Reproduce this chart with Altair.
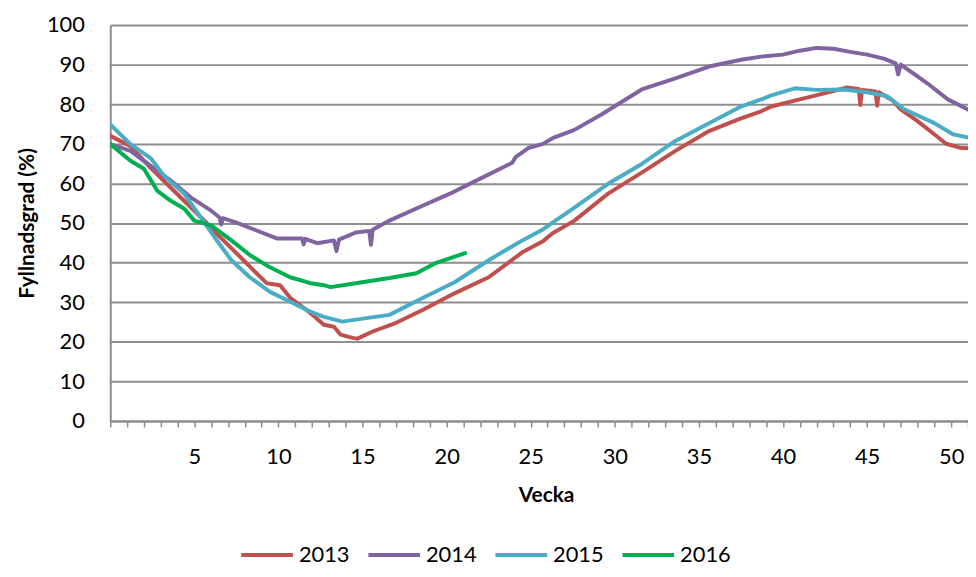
import altair as alt
import pandas as pd

# Week positions and fill levels (%)
weeks_2013 = [0, 1.2, 2.4, 3.6, 4.8, 5.6, 6.3, 7.5, 8.7, 9.3, 10.1, 10.7, 11.9, 12.7, 13.3, 13.7,
              14.4, 14.7, 15.6, 17.0, 18.6, 20.5, 22.5, 24.5, 25.7, 26.3, 27.6, 29.6, 31.6, 33.6,
              35.6, 37.5, 38.7, 39.3, 41.0, 42.5, 43.8, 44.5, 44.6, 44.7, 45.5, 45.6, 45.7, 46.5,
              47.0, 48.0, 48.9, 49.7, 50.5, 51.3]
values_2013 = [72.0, 69.4, 63.9, 58.9, 53.9, 50.6, 47.4, 42.4, 37.3, 34.8, 34.3, 31.1, 27.3, 24.3,
               23.8, 21.8, 21.0, 20.8, 22.6, 24.8, 28.1, 32.3, 36.3, 42.6, 45.3, 47.4, 50.6, 57.4,
               62.7, 68.2, 73.2, 76.4, 78.2, 79.4, 81.2, 82.8, 84.2, 83.8, 79.8, 83.6, 83.2, 79.6,
               83.0, 81.0, 78.7, 75.7, 72.7, 70.0, 69.0, 68.8]

weeks_2014 = [0, 1.2, 2.4, 3.6, 4.8, 6.0, 6.5, 6.6, 6.7, 7.5, 8.7, 9.9, 11.4, 11.5, 11.6, 12.3,
              13.3, 13.45, 13.6, 14.6, 15.4, 15.5, 15.6, 16.6, 18.6, 20.2, 22.0, 23.9, 24.1, 24.9,
              25.7, 26.3, 27.6, 29.2, 31.6, 33.6, 35.6, 37.5, 38.7, 40.0, 41.0, 42.0, 43.0, 44.0,
              45.0, 46.0, 46.7, 46.85, 47.0, 48.0, 48.6, 49.8, 51.3]
values_2014 = [69.9, 68.2, 64.4, 60.7, 56.4, 53.1, 51.4, 49.6, 51.2, 50.1, 48.1, 46.1, 46.1, 44.6,
               46.0, 44.9, 45.6, 42.9, 45.8, 47.6, 48.0, 44.5, 48.3, 50.6, 54.4, 57.4, 61.2, 65.2,
               66.6, 69.0, 69.9, 71.4, 73.5, 77.4, 83.7, 86.5, 89.5, 91.2, 92.0, 92.5, 93.5, 94.2,
               94.0, 93.2, 92.5, 91.5, 90.3, 87.5, 90.0, 87.0, 85.2, 81.2, 78.0]

weeks_2015 = [0, 1.2, 2.4, 3.2, 4.4, 5.1, 6.2, 7.2, 8.3, 9.5, 10.7, 11.9, 12.7, 13.8, 14.6, 16.6,
              18.6, 20.5, 22.5, 24.5, 25.7, 26.3, 27.6, 29.6, 31.6, 33.6, 35.6, 37.5, 38.7, 39.3,
              40.7, 42.0, 43.6, 45.0, 46.2, 47.2, 49.0, 50.1, 51.3]
values_2015 = [74.9, 69.9, 66.4, 61.9, 57.4, 53.1, 46.4, 40.6, 36.3, 32.6, 30.1, 27.6, 26.3, 25.1,
               25.6, 26.8, 31.1, 35.1, 40.6, 45.6, 48.3, 50.1, 53.9, 59.9, 64.9, 70.7, 75.2, 79.4,
               81.2, 82.2, 84.0, 83.6, 83.7, 83.0, 82.0, 78.7, 75.2, 72.4, 71.3]

weeks_2016 = [0, 1.2, 2.0, 2.8, 3.6, 4.4, 5.0, 6.0, 7.2, 8.3, 9.5, 10.7, 11.9, 12.7, 13.1, 14.6,
              16.6, 18.2, 19.3, 21.1]
values_2016 = [69.9, 65.7, 63.7, 58.1, 55.6, 53.6, 50.6, 49.4, 45.6, 41.9, 38.8, 36.3, 34.8, 34.3,
               33.8, 34.8, 36.1, 37.3, 39.8, 42.4]

years = ["2013", "2014", "2015", "2016"]
colors = ["#C0504D", "#8064A2", "#4BACC6", "#00B050"]
week_ticks = list(range(0, 52))
y_ticks = list(range(0, 101, 10))

frames = []
for yr, w, v in [("2013", weeks_2013, values_2013), ("2014", weeks_2014, values_2014),
                 ("2015", weeks_2015, values_2015), ("2016", weeks_2016, values_2016)]:
    frames.append(pd.DataFrame({"Vecka": w, "Fyllnadsgrad": v, "År": yr}))
df = pd.concat(frames, ignore_index=True)

FONT = "Lato"

chart = alt.Chart(df).mark_line(strokeWidth=4, strokeCap="round", strokeJoin="round", clip=True).encode(
    x=alt.X("Vecka:Q",
            scale=alt.Scale(domain=[0, 51.0], nice=False, zero=False),
            axis=alt.Axis(title="Vecka", values=week_ticks, grid=False,
                          labelExpr="datum.value % 5 == 0 && datum.value > 0 ? datum.label : ''",
                          labelOverlap=False, labelFlush=False,
                          tickSize=6, tickWidth=1.5, tickColor="#8c8c8c",
                          domainColor="#8c8c8c", domainWidth=2,
                          labelPadding=20, labelFontSize=22, labelFont=FONT, labelColor="#000000",
                          titleFont=FONT, titleFontSize=21, titleFontWeight="bold", titleColor="#000000",
                          titleX=439, titleY=75, titleAlign="center", titleBaseline="middle")),
    y=alt.Y("Fyllnadsgrad:Q",
            scale=alt.Scale(domain=[0, 100], nice=False),
            axis=alt.Axis(title="Fyllnadsgrad (%)", values=y_ticks, grid=True,
                          gridColor="#8e8e8e", gridWidth=2, tickSize=0,
                          domainColor="#8c8c8c", domainWidth=2,
                          labelPadding=26, labelFontSize=22, labelFont=FONT, labelColor="#000000",
                          titleFont=FONT, titleFontSize=21, titleFontWeight="bold", titleColor="#000000",
                          titleX=-83, titleY=199.5, titleAlign="center", titleBaseline="middle")),
    color=alt.Color("År:N", scale=alt.Scale(domain=years, range=colors),
                    legend=alt.Legend(title=None, orient="none", direction="horizontal", columns=4,
                                      legendX=130, legendY=506,
                                      symbolType="stroke", symbolSize=2704, symbolStrokeWidth=4,
                                      labelFont=FONT, labelFontSize=22, labelColor="#000000",
                                      labelOffset=4, columnPadding=10)),
).properties(
    width=864, height=399,
    autosize=alt.AutoSizeParams(type="none"),
    padding={"left": 103, "top": 15, "right": 0, "bottom": 147},
).configure_view(stroke=None)

chart.save("out.html", embed_options={"renderer": "svg", "actions": False})
